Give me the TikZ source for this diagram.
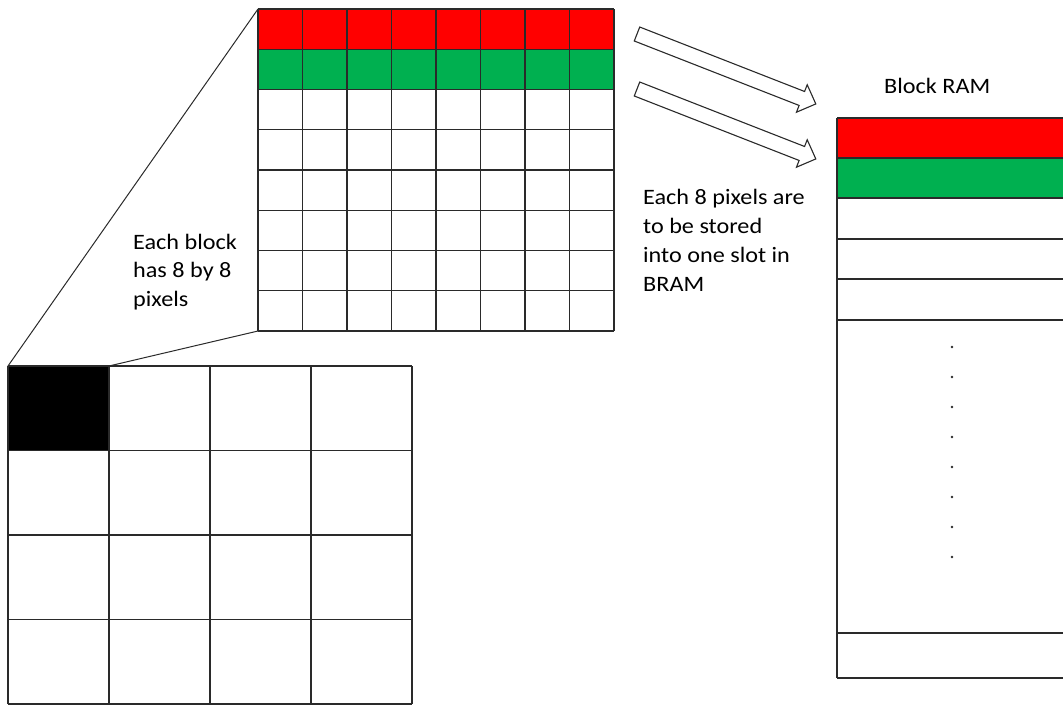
\documentclass[tikz,border=0pt]{standalone}
\usepackage{fontspec}
\setmainfont{Carlito}
\definecolor{cred}{HTML}{FF0000}
\definecolor{cgreen}{HTML}{00B050}
\definecolor{cline}{HTML}{2A2A2A}
\begin{document}
\begin{tikzpicture}[x=1pt,y=-1pt,
  gline/.style={line width=1.2pt, draw=cline},
  cellnode/.style={inner sep=0pt, outer sep=0pt, anchor=north west},
  txtA/.style={font=\fontsize{22}{28.5}\selectfont, inner sep=0pt, anchor=base west},
  txtB/.style={font=\fontsize{22}{29.3}\selectfont, inner sep=0pt, anchor=base west},
  barrow/.style={draw=cline, line width=1.1pt, fill=white, line join=miter}]
\useasboundingbox (0,0) rectangle (1063,705);
\clip (0,0) rectangle (1063,705);

% top grid (8 x 8 pixels)
\node[cellnode, minimum width=356pt, minimum height=322pt] (tg) at (258,9) {};
\fill[cred] (258,9) rectangle (614,49.25);
\fill[cgreen] (258,49.25) rectangle (614,89.5);
\foreach \i in {0,...,8} {\draw[gline] ({258+\i*44.5},9) -- ({258+\i*44.5},331);}
\foreach \j in {0,...,8} {\draw[gline] (258,{9+\j*40.25}) -- (614,{9+\j*40.25});}

% bottom grid (blocks)
\node[cellnode, fill=black, minimum width=101pt, minimum height=85pt] (blk) at (8,366) {};
\foreach \i in {0,...,4} {\draw[gline] ({8+\i*101},366) -- ({8+\i*101},704);}
\foreach \j in {0,...,4} {\draw[gline] (8,{366+\j*84.5}) -- (412,{366+\j*84.5});}

% zoom lines
\draw[gline, line width=1pt] (tg.north west) -- (blk.north west);
\draw[gline, line width=1pt] (tg.south west) -- (blk.north east);

% Block RAM
\node[cellnode, minimum width=240pt, minimum height=560pt] (bram) at (837,118) {};
\fill[cred] (837,118) rectangle (1075,158);
\fill[cgreen] (837,158) rectangle (1075,198);
\foreach \y in {118,158,198,239,279,320,633,678} {\draw[gline] (837,\y) -- (1075,\y);}
\draw[gline] (837,118) -- (837,678);
\foreach \k in {0,...,7} {\fill[cline] (952,{347+\k*30}) circle (1.4);}

% block arrows
\coordinate (a1) at (637,34);
\coordinate (a2) at (637,89);
\begin{scope}[shift={(a1)}, rotate=-21.36]
\draw[barrow] (0,-7.5) -- (177,-7.5) -- (177,-14.75) -- (192,0) -- (177,14.75) -- (177,7.5) -- (0,7.5) -- cycle;
\end{scope}
\begin{scope}[shift={(a2)}, rotate=-21.36]
\draw[barrow] (0,-7.5) -- (177,-7.5) -- (177,-14.75) -- (192,0) -- (177,14.75) -- (177,7.5) -- (0,7.5) -- cycle;
\end{scope}

% texts
\node[txtA] (blocktxt) at (133,249) {\scalebox{1.1}[1]{\begin{tabular}[t]{@{}l@{}}Each block\\has 8 by 8\\pixels\end{tabular}}};
\node[txtB] (storetxt) at (643,204) {\scalebox{1.1}[1]{\begin{tabular}[t]{@{}l@{}}Each 8 pixels are\\to be stored\\into one slot in\\BRAM\end{tabular}}};
\node[txtA] (bramlbl) at (884,93) {\scalebox{1.1}[1]{Block RAM}};
\end{tikzpicture}
\end{document}
